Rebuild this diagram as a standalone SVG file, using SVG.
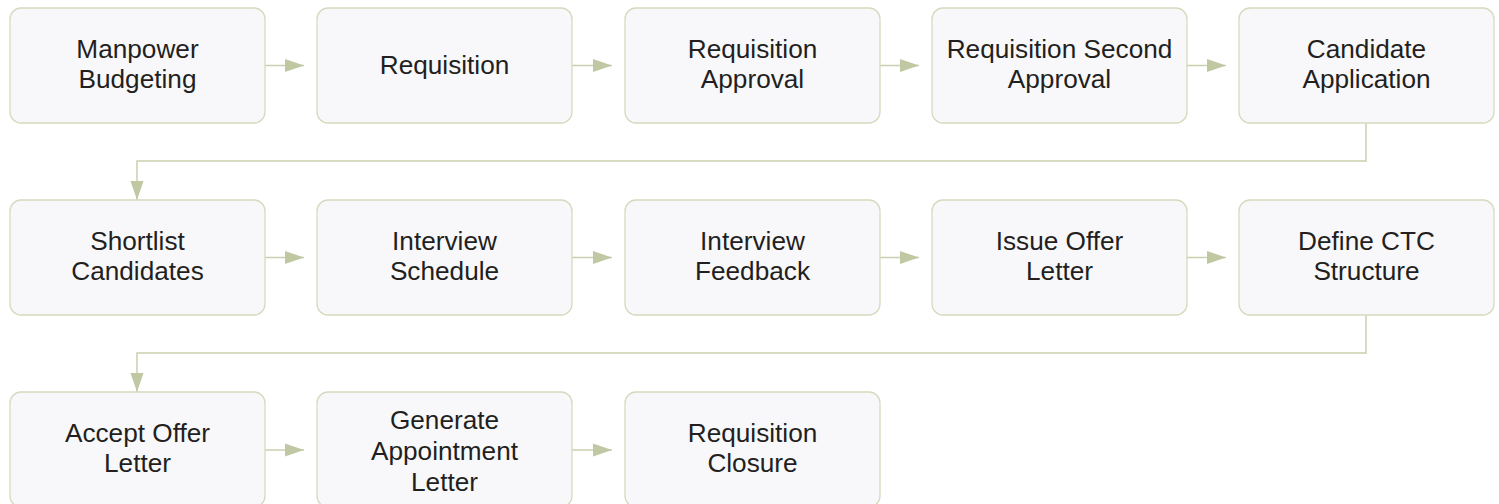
<svg xmlns="http://www.w3.org/2000/svg" width="1499" height="504" viewBox="0 0 1499 504">
<defs>
<style>
.box{fill:#f8f8fb;stroke:#d5dabd;stroke-width:1.3}
.t{font-family:"Liberation Sans",Arial,sans-serif;font-size:26.2px;fill:#231f20;text-anchor:middle}
.c{fill:none;stroke:#c9d0ae;stroke-width:1.5}
</style>
<marker id="ah" markerWidth="19" markerHeight="14" refX="19" refY="7" orient="auto" markerUnits="userSpaceOnUse">
<path d="M0,0.5 L19,7 L0,13.5 Z" fill="#bfc8a2"/>
</marker>
</defs>
<g id="connectors">
<path class="c" d="M265,65.5 H304" marker-end="url(#ah)"/>
<path class="c" d="M572,65.5 H612" marker-end="url(#ah)"/>
<path class="c" d="M880,65.5 H919" marker-end="url(#ah)"/>
<path class="c" d="M1187,65.5 H1226" marker-end="url(#ah)"/>
<path class="c" d="M1366,123 V161 H137 V200" marker-end="url(#ah)"/>
<path class="c" d="M265,257.5 H304" marker-end="url(#ah)"/>
<path class="c" d="M572,257.5 H612" marker-end="url(#ah)"/>
<path class="c" d="M880,257.5 H919" marker-end="url(#ah)"/>
<path class="c" d="M1187,257.5 H1226" marker-end="url(#ah)"/>
<path class="c" d="M1366,315 V353 H137 V392" marker-end="url(#ah)"/>
<path class="c" d="M265,450 H304" marker-end="url(#ah)"/>
<path class="c" d="M572,450 H612" marker-end="url(#ah)"/>
</g>
<g id="n1"><rect class="box" x="10" y="8" width="255" height="115" rx="11"/><text class="t" x="137.5" y="57.5">Manpower</text><text class="t" x="137.5" y="88">Budgeting</text></g>
<g id="n2"><rect class="box" x="317" y="8" width="255" height="115" rx="11"/><text class="t" x="444.5" y="73.5">Requisition</text></g>
<g id="n3"><rect class="box" x="625" y="8" width="255" height="115" rx="11"/><text class="t" x="752.5" y="57.5">Requisition</text><text class="t" x="752.5" y="88">Approval</text></g>
<g id="n4"><rect class="box" x="932" y="8" width="255" height="115" rx="11"/><text class="t" x="1059.5" y="57.5">Requisition Second</text><text class="t" x="1059.5" y="88">Approval</text></g>
<g id="n5"><rect class="box" x="1239" y="8" width="255" height="115" rx="11"/><text class="t" x="1366.5" y="57.5">Candidate</text><text class="t" x="1366.5" y="88">Application</text></g>
<g id="n6"><rect class="box" x="10" y="200" width="255" height="115" rx="11"/><text class="t" x="137.5" y="249.5">Shortlist</text><text class="t" x="137.5" y="280">Candidates</text></g>
<g id="n7"><rect class="box" x="317" y="200" width="255" height="115" rx="11"/><text class="t" x="444.5" y="249.5">Interview</text><text class="t" x="444.5" y="280">Schedule</text></g>
<g id="n8"><rect class="box" x="625" y="200" width="255" height="115" rx="11"/><text class="t" x="752.5" y="249.5">Interview</text><text class="t" x="752.5" y="280">Feedback</text></g>
<g id="n9"><rect class="box" x="932" y="200" width="255" height="115" rx="11"/><text class="t" x="1059.5" y="249.5">Issue Offer</text><text class="t" x="1059.5" y="280">Letter</text></g>
<g id="n10"><rect class="box" x="1239" y="200" width="255" height="115" rx="11"/><text class="t" x="1366.5" y="249.5">Define CTC</text><text class="t" x="1366.5" y="280">Structure</text></g>
<g id="n11"><rect class="box" x="10" y="392" width="255" height="115" rx="11"/><text class="t" x="137.5" y="441.5">Accept Offer</text><text class="t" x="137.5" y="472">Letter</text></g>
<g id="n12"><rect class="box" x="317" y="392" width="255" height="115" rx="11"/><text class="t" x="444.5" y="428.5">Generate</text><text class="t" x="444.5" y="459.5">Appointment</text><text class="t" x="444.5" y="490.5">Letter</text></g>
<g id="n13"><rect class="box" x="625" y="392" width="255" height="115" rx="11"/><text class="t" x="752.5" y="441.5">Requisition</text><text class="t" x="752.5" y="472">Closure</text></g>
</svg>
